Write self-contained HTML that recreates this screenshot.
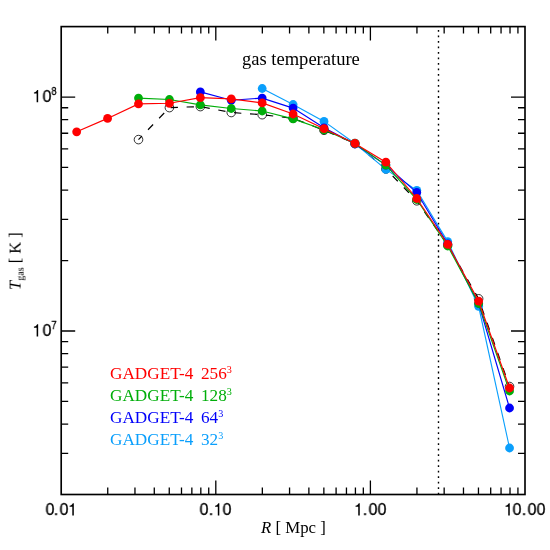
<!DOCTYPE html>
<html><head><meta charset="utf-8"><title>gas temperature</title>
<style>
html,body{margin:0;padding:0;background:#fff;}
body{width:550px;height:550px;position:relative;overflow:hidden;}
.t{position:absolute;white-space:nowrap;line-height:1;color:#000;will-change:transform;}
.s{font-family:"Liberation Sans",sans-serif;font-size:16.7px;}
.r{font-family:"Liberation Serif",serif;font-size:16.3px;}
.c{transform:translateX(-50%) scaleX(0.92);-webkit-text-stroke:0.3px #000;}
sup{font-size:59%;vertical-align:baseline;position:relative;top:-0.64em;line-height:0;}
sub{font-size:62%;vertical-align:baseline;position:relative;top:0.3em;line-height:0;}
</style></head><body>
<svg width="550" height="550" viewBox="0 0 550 550" style="position:absolute;left:0;top:0">
<rect width="550" height="550" fill="#fff"/>
<path d="M107.74 494.5v-7M107.74 26.6v7M134.96 494.5v-7M134.96 26.6v7M154.28 494.5v-7M154.28 26.6v7M169.26 494.5v-7M169.26 26.6v7M181.50 494.5v-7M181.50 26.6v7M191.85 494.5v-7M191.85 26.6v7M200.82 494.5v-7M200.82 26.6v7M208.73 494.5v-7M208.73 26.6v7M215.80 494.5v-14M215.80 26.6v14M262.34 494.5v-7M262.34 26.6v7M289.56 494.5v-7M289.56 26.6v7M308.88 494.5v-7M308.88 26.6v7M323.86 494.5v-7M323.86 26.6v7M336.10 494.5v-7M336.10 26.6v7M346.45 494.5v-7M346.45 26.6v7M355.42 494.5v-7M355.42 26.6v7M363.33 494.5v-7M363.33 26.6v7M370.40 494.5v-14M370.40 26.6v14M416.94 494.5v-7M416.94 26.6v7M444.16 494.5v-7M444.16 26.6v7M463.48 494.5v-7M463.48 26.6v7M478.46 494.5v-7M478.46 26.6v7M490.70 494.5v-7M490.70 26.6v7M501.05 494.5v-7M501.05 26.6v7M510.02 494.5v-7M510.02 26.6v7M517.93 494.5v-7M517.93 26.6v7M61.2 453.30h7M525.0 453.30h-7M61.2 424.07h7M525.0 424.07h-7M61.2 401.40h7M525.0 401.40h-7M61.2 382.88h7M525.0 382.88h-7M61.2 367.22h7M525.0 367.22h-7M61.2 353.65h7M525.0 353.65h-7M61.2 341.68h7M525.0 341.68h-7M61.2 330.98h14M525.0 330.98h-14M61.2 260.55h7M525.0 260.55h-7M61.2 219.35h7M525.0 219.35h-7M61.2 190.12h7M525.0 190.12h-7M61.2 167.45h7M525.0 167.45h-7M61.2 148.93h7M525.0 148.93h-7M61.2 133.27h7M525.0 133.27h-7M61.2 119.70h7M525.0 119.70h-7M61.2 107.73h7M525.0 107.73h-7M61.2 97.03h14M525.0 97.03h-14" stroke="#000" stroke-width="1.3" fill="none"/>
<rect x="61.2" y="26.6" width="463.8" height="467.9" fill="none" stroke="#000" stroke-width="1.65"/>
<path d="M438.5 494.45V26.6" stroke="#000" stroke-width="1.4" stroke-dasharray="1.8 3.71" stroke-dashoffset="0.15" fill="none"/>
<polyline points="138.50,139.6 169.42,107.6 200.34,106.6 231.26,112.5 262.18,114.7 293.10,118.3 324.02,130.3 354.94,143.5 385.86,169 416.78,200.8 447.70,245 478.62,298.8 509.54,386.5" fill="none" stroke="#000" stroke-width="1.15" stroke-dasharray="7.3 8.7" stroke-dashoffset="2.3"/>
<circle cx="138.50" cy="139.6" r="4.3" fill="none" stroke="#000" stroke-width="0.8"/>
<circle cx="169.42" cy="107.6" r="4.3" fill="none" stroke="#000" stroke-width="0.8"/>
<circle cx="200.34" cy="106.6" r="4.3" fill="none" stroke="#000" stroke-width="0.8"/>
<circle cx="231.26" cy="112.5" r="4.3" fill="none" stroke="#000" stroke-width="0.8"/>
<circle cx="262.18" cy="114.7" r="4.3" fill="none" stroke="#000" stroke-width="0.8"/>
<circle cx="293.10" cy="118.3" r="4.3" fill="none" stroke="#000" stroke-width="0.8"/>
<circle cx="324.02" cy="130.3" r="4.3" fill="none" stroke="#000" stroke-width="0.8"/>
<circle cx="354.94" cy="143.5" r="4.3" fill="none" stroke="#000" stroke-width="0.8"/>
<circle cx="385.86" cy="169" r="4.3" fill="none" stroke="#000" stroke-width="0.8"/>
<circle cx="416.78" cy="200.8" r="4.3" fill="none" stroke="#000" stroke-width="0.8"/>
<circle cx="447.70" cy="245" r="4.3" fill="none" stroke="#000" stroke-width="0.8"/>
<circle cx="478.62" cy="298.8" r="4.3" fill="none" stroke="#000" stroke-width="0.8"/>
<circle cx="509.54" cy="386.5" r="4.3" fill="none" stroke="#000" stroke-width="0.8"/>
<polyline points="262.18,88.5 293.10,104.5 324.02,121.4 354.94,143.5 385.86,169.4 416.78,190.3 447.70,241.6 478.62,306.3 509.54,448" fill="none" stroke="#0a9ffc" stroke-width="1.15"/>
<circle cx="262.18" cy="88.5" r="4.4" fill="#0a9ffc"/>
<circle cx="293.10" cy="104.5" r="4.4" fill="#0a9ffc"/>
<circle cx="324.02" cy="121.4" r="4.4" fill="#0a9ffc"/>
<circle cx="354.94" cy="143.5" r="4.4" fill="#0a9ffc"/>
<circle cx="385.86" cy="169.4" r="4.4" fill="#0a9ffc"/>
<circle cx="416.78" cy="190.3" r="4.4" fill="#0a9ffc"/>
<circle cx="447.70" cy="241.6" r="4.4" fill="#0a9ffc"/>
<circle cx="478.62" cy="306.3" r="4.4" fill="#0a9ffc"/>
<circle cx="509.54" cy="448" r="4.4" fill="#0a9ffc"/>
<polyline points="200.34,91.9 231.26,100.2 262.18,98.1 293.10,108.1 324.02,127.8 354.94,144 385.86,165.1 416.78,192.5 447.70,244.0 478.62,303.5 509.54,408" fill="none" stroke="#0000fa" stroke-width="1.15"/>
<circle cx="200.34" cy="91.9" r="4.4" fill="#0000fa"/>
<circle cx="231.26" cy="100.2" r="4.4" fill="#0000fa"/>
<circle cx="262.18" cy="98.1" r="4.4" fill="#0000fa"/>
<circle cx="293.10" cy="108.1" r="4.4" fill="#0000fa"/>
<circle cx="324.02" cy="127.8" r="4.4" fill="#0000fa"/>
<circle cx="354.94" cy="144" r="4.4" fill="#0000fa"/>
<circle cx="385.86" cy="165.1" r="4.4" fill="#0000fa"/>
<circle cx="416.78" cy="192.5" r="4.4" fill="#0000fa"/>
<circle cx="447.70" cy="244.0" r="4.4" fill="#0000fa"/>
<circle cx="478.62" cy="303.5" r="4.4" fill="#0000fa"/>
<circle cx="509.54" cy="408" r="4.4" fill="#0000fa"/>
<polyline points="138.50,98.1 169.42,99.5 200.34,104.9 231.26,108.5 262.18,111.0 293.10,118.9 324.02,129.8 354.94,143.5 385.86,165.1 416.78,199.5 447.70,246 478.62,303.5 509.54,391" fill="none" stroke="#00ae0a" stroke-width="1.15"/>
<circle cx="138.50" cy="98.1" r="4.4" fill="#00ae0a"/>
<circle cx="169.42" cy="99.5" r="4.4" fill="#00ae0a"/>
<circle cx="200.34" cy="104.9" r="4.4" fill="#00ae0a"/>
<circle cx="231.26" cy="108.5" r="4.4" fill="#00ae0a"/>
<circle cx="262.18" cy="111.0" r="4.4" fill="#00ae0a"/>
<circle cx="293.10" cy="118.9" r="4.4" fill="#00ae0a"/>
<circle cx="324.02" cy="129.8" r="4.4" fill="#00ae0a"/>
<circle cx="354.94" cy="143.5" r="4.4" fill="#00ae0a"/>
<circle cx="385.86" cy="165.1" r="4.4" fill="#00ae0a"/>
<circle cx="416.78" cy="199.5" r="4.4" fill="#00ae0a"/>
<circle cx="447.70" cy="246" r="4.4" fill="#00ae0a"/>
<circle cx="478.62" cy="303.5" r="4.4" fill="#00ae0a"/>
<circle cx="509.54" cy="391" r="4.4" fill="#00ae0a"/>
<polyline points="76.66,131.8 107.58,118.4 138.50,103.9 169.42,103.3 200.34,97.7 231.26,98.9 262.18,102.9 293.10,114 324.02,128.7 354.94,143.4 385.86,162.2 416.78,198.5 447.70,244.3 478.62,301.1 509.54,388" fill="none" stroke="#ff0000" stroke-width="1.15"/>
<circle cx="76.66" cy="131.8" r="4.4" fill="#ff0000"/>
<circle cx="107.58" cy="118.4" r="4.4" fill="#ff0000"/>
<circle cx="138.50" cy="103.9" r="4.4" fill="#ff0000"/>
<circle cx="169.42" cy="103.3" r="4.4" fill="#ff0000"/>
<circle cx="200.34" cy="97.7" r="4.4" fill="#ff0000"/>
<circle cx="231.26" cy="98.9" r="4.4" fill="#ff0000"/>
<circle cx="262.18" cy="102.9" r="4.4" fill="#ff0000"/>
<circle cx="293.10" cy="114" r="4.4" fill="#ff0000"/>
<circle cx="324.02" cy="128.7" r="4.4" fill="#ff0000"/>
<circle cx="354.94" cy="143.4" r="4.4" fill="#ff0000"/>
<circle cx="385.86" cy="162.2" r="4.4" fill="#ff0000"/>
<circle cx="416.78" cy="198.5" r="4.4" fill="#ff0000"/>
<circle cx="447.70" cy="244.3" r="4.4" fill="#ff0000"/>
<circle cx="478.62" cy="301.1" r="4.4" fill="#ff0000"/>
<circle cx="509.54" cy="388" r="4.4" fill="#ff0000"/>
<path transform="translate(73.06,515.45)" d="M-.76 0V-8.73H-3.47V-9.82C-1.95-9.95-1.09-10.54-.21-12.25H.76V0Z" fill="#000"/><path transform="translate(218.56,515.45)" d="M-.76 0V-8.73H-3.47V-9.82C-1.95-9.95-1.09-10.54-.21-12.25H.76V0Z" fill="#000"/><path transform="translate(359.0,515.45)" d="M-.76 0V-8.73H-3.47V-9.82C-1.95-9.95-1.09-10.54-.21-12.25H.76V0Z" fill="#000"/><path transform="translate(509.0,515.45)" d="M-.76 0V-8.73H-3.47V-9.82C-1.95-9.95-1.09-10.54-.21-12.25H.76V0Z" fill="#000"/><path transform="translate(37.4,102.3)" d="M-.76 0V-8.73H-3.47V-9.82C-1.95-9.95-1.09-10.54-.21-12.25H.76V0Z" fill="#000"/><path transform="translate(37.4,336.4)" d="M-.76 0V-8.73H-3.47V-9.82C-1.95-9.95-1.09-10.54-.21-12.25H.76V0Z" fill="#000"/>
</svg>
<div class="t s c" style="left:49.7px;top:501.3px;font-size:17.4px">0</div><div class="t s c" style="left:56.0px;top:501.3px;font-size:17.4px">.</div><div class="t s c" style="left:64.3px;top:501.3px;font-size:17.4px">0</div><div class="t s c" style="left:204.1px;top:501.3px;font-size:17.4px">0</div><div class="t s c" style="left:211.0px;top:501.3px;font-size:17.4px">.</div><div class="t s c" style="left:227.3px;top:501.3px;font-size:17.4px">0</div><div class="t s c" style="left:365.4px;top:501.3px;font-size:17.4px">.</div><div class="t s c" style="left:373.0px;top:501.3px;font-size:17.4px">0</div><div class="t s c" style="left:382.4px;top:501.3px;font-size:17.4px">0</div><div class="t s c" style="left:516.9px;top:501.3px;font-size:17.4px">0</div><div class="t s c" style="left:524.4px;top:501.3px;font-size:17.4px">.</div><div class="t s c" style="left:531.6px;top:501.3px;font-size:17.4px">0</div><div class="t s c" style="left:540.9px;top:501.3px;font-size:17.4px">0</div><div class="t s c" style="left:47.0px;top:88.3px;font-size:17.4px">0</div><div class="t s c" style="left:47.0px;top:322.3px;font-size:17.4px">0</div><div class="t s c" style="left:54px;top:86.9px;font-size:10.2px">8</div><div class="t s c" style="left:54px;top:320.7px;font-size:10.2px">7</div>
<div class="t r" style="left:241.9px;top:49.7px;font-size:18.55px">gas temperature</div>
<div class="t r" style="left:260.6px;top:519.7px;font-size:16.8px"><i>R</i> [ Mpc ]</div>
<div class="t r" style="left:24px;top:289.6px;font-size:16.4px;transform-origin:0 100%;transform:translateY(-100%) rotate(-90deg)"><i>T</i><sub>gas</sub> [ K ]</div>
<div class="t r" style="left:109.9px;top:365.3px;color:#ff0000;font-size:17.2px">GADGET-4</div><div class="t r" style="left:200.8px;top:365.3px;color:#ff0000;font-size:17.2px">256<sup>3</sup></div>
<div class="t r" style="left:109.9px;top:387.2px;color:#00ae0a;font-size:17.2px">GADGET-4</div><div class="t r" style="left:200.8px;top:387.2px;color:#00ae0a;font-size:17.2px">128<sup>3</sup></div>
<div class="t r" style="left:109.9px;top:409.1px;color:#0000fa;font-size:17.2px">GADGET-4</div><div class="t r" style="left:200.8px;top:409.1px;color:#0000fa;font-size:17.2px">64<sup>3</sup></div>
<div class="t r" style="left:109.9px;top:431.0px;color:#0a9ffc;font-size:17.2px">GADGET-4</div><div class="t r" style="left:200.8px;top:431.0px;color:#0a9ffc;font-size:17.2px">32<sup>3</sup></div>

</body></html>
